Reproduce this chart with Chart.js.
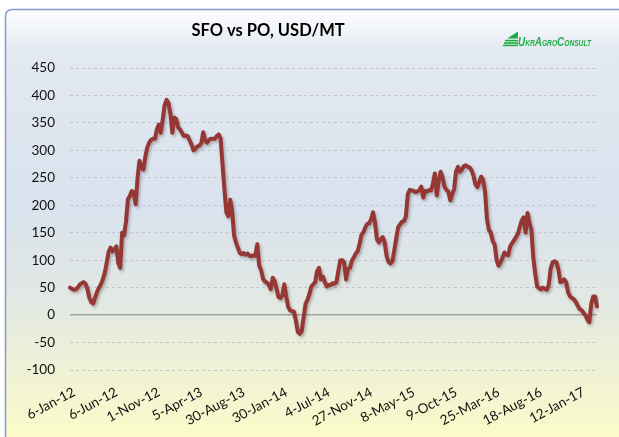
<!DOCTYPE html>
<html><head><meta charset="utf-8">
<script src="https://cdn.jsdelivr.net/npm/chart.js@4.4.0/dist/chart.umd.min.js"></script>
<style>html,body{margin:0;padding:0;background:#fff;} canvas{display:block;}</style>
</head><body>
<canvas id="c" width="619" height="437"></canvas>
<script>
// ---- data ----
const titleText = 'SFO vs PO, USD/MT';
const logoText = 'UkrAgroConsult';
const tickLabels = ['6-Jan-12','6-Jun-12','1-Nov-12','5-Apr-13','30-Aug-13','30-Jan-14','4-Jul-14','27-Nov-14','8-May-15','9-Oct-15','25-Mar-16','18-Aug-16','12-Jan-17'];
const labelEvery = 22; // one tick label per 22 weekly observations
const spread = [
 50,48,46,47,50,55,58,60,57,48,
 32,24,21,32,42,50,56,65,77,95,
 115,123,116,120,125,95,86,150,145,170,
 211,217,226,223,202,250,281,269,265,288,
 305,314,319,321,321,338,347,332,355,382,
 392,386,367,332,360,357,342,338,332,326,
 327,326,318,310,300,304,307,309,313,333,
 318,314,319,321,321,321,326,329,322,275,
 229,187,180,210,190,145,132,122,113,111,
 113,110,112,108,107,109,108,129,90,82,
 66,61,59,55,47,68,62,48,33,31,
 36,56,34,15,9,7,6,-10,-30,-34,
 -30,-5,20,28,38,52,56,60,80,86,
 65,70,60,52,55,55,58,57,60,80,
 100,100,96,65,84,86,99,105,112,116,
 130,146,151,160,166,167,175,187,168,138,
 132,138,142,132,108,97,94,98,118,140,
 160,165,170,171,180,220,228,227,226,224,
 225,228,234,214,226,225,228,227,239,258,
 218,245,261,250,234,228,225,209,220,230,
 262,270,261,265,271,273,270,269,264,254,
 238,233,242,252,246,225,175,155,150,135,
 128,100,90,96,104,114,110,109,125,131,
 136,142,148,160,172,178,150,186,168,155,
 105,75,52,49,47,50,48,46,55,85,
 96,98,96,83,60,61,65,60,42,34,
 31,29,24,17,11,9,4,0,-8,-13,
 20,34,34,16
];
const yMin = -100, yMax = 450, yStep = 50;

const categories = spread.map((v, i) => (i % labelEvery === 0 && tickLabels[i / labelEvery]) ? tickLabels[i / labelEvery] : '');

// ---- plugins ----
const backdrop = {
  id: 'backdrop',
  beforeDraw(chart) {
    const c = chart.ctx, W = chart.width, H = chart.height;
    c.save();
    c.fillStyle = '#ffffff';
    c.fillRect(0, 0, W, H);
    const g = c.createLinearGradient(0, 10, 0, H);
    g.addColorStop(0.0, '#fdfdfe');
    g.addColorStop(0.10, '#e3e9f1');
    g.addColorStop(0.45, '#d9e2ee');
    g.addColorStop(0.68, '#e2e8e3');
    g.addColorStop(0.82, '#eef0d8');
    g.addColorStop(1.0, '#fbfbc9');
    const x = 5.5, y = 9.5, w = 640, h = 460, r = 7;
    c.beginPath();
    c.moveTo(x + r, y);
    c.lineTo(x + w, y);
    c.lineTo(x + w, y + h);
    c.lineTo(x, y + h);
    c.lineTo(x, y + r);
    c.quadraticCurveTo(x, y, x + r, y);
    c.closePath();
    c.fillStyle = g;
    c.fill();
    c.strokeStyle = '#7f9dc8';
    c.lineWidth = 1.5;
    c.stroke();
    c.restore();
  }
};
const lineShadow = {
  id: 'lineShadow',
  beforeDatasetDraw(chart) {
    const c = chart.ctx;
    c.save();
    c.shadowColor = 'rgba(70,50,50,0.35)';
    c.shadowBlur = 3;
    c.shadowOffsetX = 1.5;
    c.shadowOffsetY = 2;
  },
  afterDatasetDraw(chart) { chart.ctx.restore(); }
};
const headerText = {
  id: 'headerText',
  afterDraw(chart) {
    const c = chart.ctx;
    c.save();
    c.fillStyle = '#000';
    c.font = 'bold 16.5px Lato';
    c.textAlign = 'center';
    c.textBaseline = 'alphabetic';
    c.fillText(titleText, 268, 36);
    // logo
    const green = '#1fae45';
    c.fillStyle = green;
    c.beginPath();
    c.moveTo(507, 38.5); c.lineTo(518, 31.5); c.lineTo(518, 38.5); c.closePath(); c.fill();
    c.fillRect(505, 39.8, 13, 1.6);
    c.fillRect(504, 42.2, 14, 1.6);
    c.fillRect(503, 44.6, 15, 1.6);
    c.font = 'italic bold 13.5px "Liberation Sans Narrow", "Liberation Sans", sans-serif';
    try { c.fontVariantCaps = 'small-caps'; } catch (e) {}
    c.textAlign = 'left';
    const tw = c.measureText(logoText).width;
    const target = 73;
    c.translate(518, 46);
    c.scale(target / tw, 1);
    c.fillText(logoText, 0, 0);
    c.restore();
  }
};

new Chart(document.getElementById('c'), {
  type: 'line',
  data: {
    labels: categories,
    datasets: [{
      data: spread,
      borderColor: '#953735',
      borderWidth: 4,
      pointRadius: 0,
      pointHoverRadius: 0,
      tension: 0,
      fill: false,
      borderJoinStyle: 'round',
      borderCapStyle: 'round'
    }]
  },
  options: {
    responsive: false,
    animation: false,
    devicePixelRatio: 1,
    layout: { padding: { left: 0, right: 22, top: 68, bottom: 0 } },
    plugins: { legend: { display: false }, title: { display: false }, tooltip: { enabled: false } },
    scales: {
      x: {
        type: 'category',
        offset: false,
        grid: { display: false },
        border: { display: false },
        ticks: {
          autoSkip: false, maxRotation: 28, minRotation: 28,
          padding: 6, labelOffset: 4,
          font: { family: 'Lato', size: 13.5 }, color: '#111'
        },
        afterFit(s) { s.height = 67; }
      },
      y: {
        min: yMin, max: yMax,
        ticks: { stepSize: yStep, padding: 15, font: { family: 'Lato', size: 13.5 }, color: '#111' },
        grid: {
          drawTicks: false,
          color: ctx => (ctx.tick && ctx.tick.value === 0) ? '#a3a3a3' : '#c2c6cc',
          lineWidth: ctx => (ctx.tick && ctx.tick.value === 0) ? 1.5 : 1
        },
        border: { display: false, dash: ctx => (ctx.tick && ctx.tick.value === 0) ? [] : [3, 3] },
        afterFit(s) { s.width = 70; }
      }
    }
  },
  plugins: [backdrop, lineShadow, headerText]
});
</script>
</body></html>
